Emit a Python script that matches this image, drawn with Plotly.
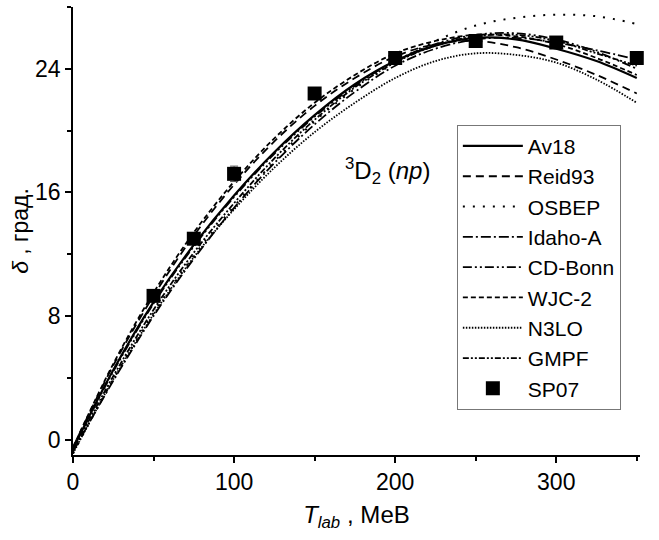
import plotly.graph_objects as go

T = [0, 25, 50, 75, 100, 125, 150, 175, 200, 225, 250, 275, 300, 325, 350]

av18   = [-0.6, 4.5, 8.9, 12.6, 15.8, 18.6, 21.0, 23.0, 24.5, 25.5, 26.0, 25.9, 25.3, 24.5, 23.4]
reid93 = [-0.5, 4.8, 9.3, 13.2, 16.5, 19.3, 21.6, 23.4, 24.8, 25.6, 25.8, 25.4, 24.6, 23.6, 22.4]
osbep  = [-0.9, 3.9, 8.2, 11.9, 15.1, 18.0, 20.6, 22.7, 24.4, 25.8, 26.8, 27.3, 27.5, 27.4, 26.9]
idaho  = [-0.8, 3.8, 8.0, 11.7, 15.0, 17.9, 20.4, 22.5, 24.2, 25.3, 25.9, 26.0, 25.7, 25.2, 24.6]
cdbonn = [-0.6, 4.4, 8.8, 12.5, 15.7, 18.5, 20.9, 22.9, 24.5, 25.6, 26.2, 26.3, 25.9, 25.1, 24.0]
wjc2   = [-0.5, 4.9, 9.5, 13.4, 16.7, 19.5, 21.8, 23.6, 25.0, 25.8, 26.2, 26.1, 25.6, 24.7, 23.6]
n3lo   = [-0.9, 3.9, 8.1, 11.8, 14.9, 17.6, 19.9, 21.8, 23.4, 24.5, 25.0, 24.9, 24.4, 23.3, 21.8]
gmpf   = [-0.7, 4.1, 8.4, 12.1, 15.3, 18.2, 20.7, 22.8, 24.4, 25.5, 26.1, 26.2, 25.8, 25.0, 24.2]

sp07_T = [50, 75, 100, 150, 200, 250, 300, 350]
sp07_d = [9.3, 13.0, 17.2, 22.4, 24.7, 25.8, 25.7, 24.7]
sp07_err = [0.2, 0.2, 0.5, 0.2, 0.2, 0.2, 0.2, 0.2]

curves = [
    ("Av18", av18, "solid", 2.2),
    ("Reid93", reid93, "8px,5px", 1.8),
    ("OSBEP", osbep, "2px,8px", 2.0),
    ("Idaho-A", idaho, "10px,3px,2px,3px", 1.8),
    ("CD-Bonn", cdbonn, "9px,3px,2px,3px,2px,3px", 1.8),
    ("WJC-2", wjc2, "5px,3px", 1.8),
    ("N3LO", n3lo, "1.5px,1.5px", 1.8),
    ("GMPF", gmpf, "6px,2px,2px,2px,2px,2px", 1.8),
]

fig = go.Figure()
for i, (name, y, dash, w) in enumerate(curves):
    fig.add_trace(go.Scatter(
        x=T, y=y, mode="lines", name=name,
        line=dict(color="black", dash=dash, width=w, shape="spline", smoothing=1.0),
    ))

fig.add_trace(go.Scatter(
    x=sp07_T, y=sp07_d, mode="markers", name="SP07",
    marker=dict(symbol="square", size=14, color="black"),
    error_y=dict(type="data", array=sp07_err, color="#555", thickness=1, width=4),
    cliponaxis=False,
))

fig.add_annotation(
    x=195, y=17.4, xref="x", yref="y",
    text="<sup>3</sup>D<sub>2</sub> (<i>np</i>)", showarrow=False,
    font=dict(size=24, color="black", family="Liberation Sans"),
)

axis_common = dict(
    showline=True, linecolor="black", linewidth=1.5,
    ticks="outside", ticklen=6, tickwidth=1.5, tickcolor="black",
    showgrid=False, zeroline=False,
    tickfont=dict(size=23, color="black", family="Liberation Sans"),
)

fig.update_layout(
    width=659, height=540,
    margin=dict(l=73, r=19, t=7, b=85),
    plot_bgcolor="white", paper_bgcolor="white",
    font=dict(family="Liberation Sans", color="black"),
    showlegend=True,
    legend=dict(
        x=0.677, y=0.737, xanchor="left", yanchor="top",
        bordercolor="#777", borderwidth=1, bgcolor="white",
        font=dict(size=21, color="black", family="Liberation Sans"),
        itemwidth=60,
    ),
    xaxis=dict(
        range=[0, 352], dtick=100, tick0=0,
        minor=dict(dtick=50, ticks="outside", ticklen=4, tickcolor="black"),
        title=dict(text="<i>T</i><sub><i>lab</i></sub> , МеВ", font=dict(size=24), standoff=12),
        **axis_common,
    ),
    yaxis=dict(
        range=[-1, 28], dtick=8, tick0=0,
        minor=dict(dtick=4, ticks="outside", ticklen=4, tickcolor="black"),
        title=dict(text="<i>δ</i> , град.", font=dict(size=23), standoff=0),
        **axis_common,
    ),
)

fig.write_html("out.html")
